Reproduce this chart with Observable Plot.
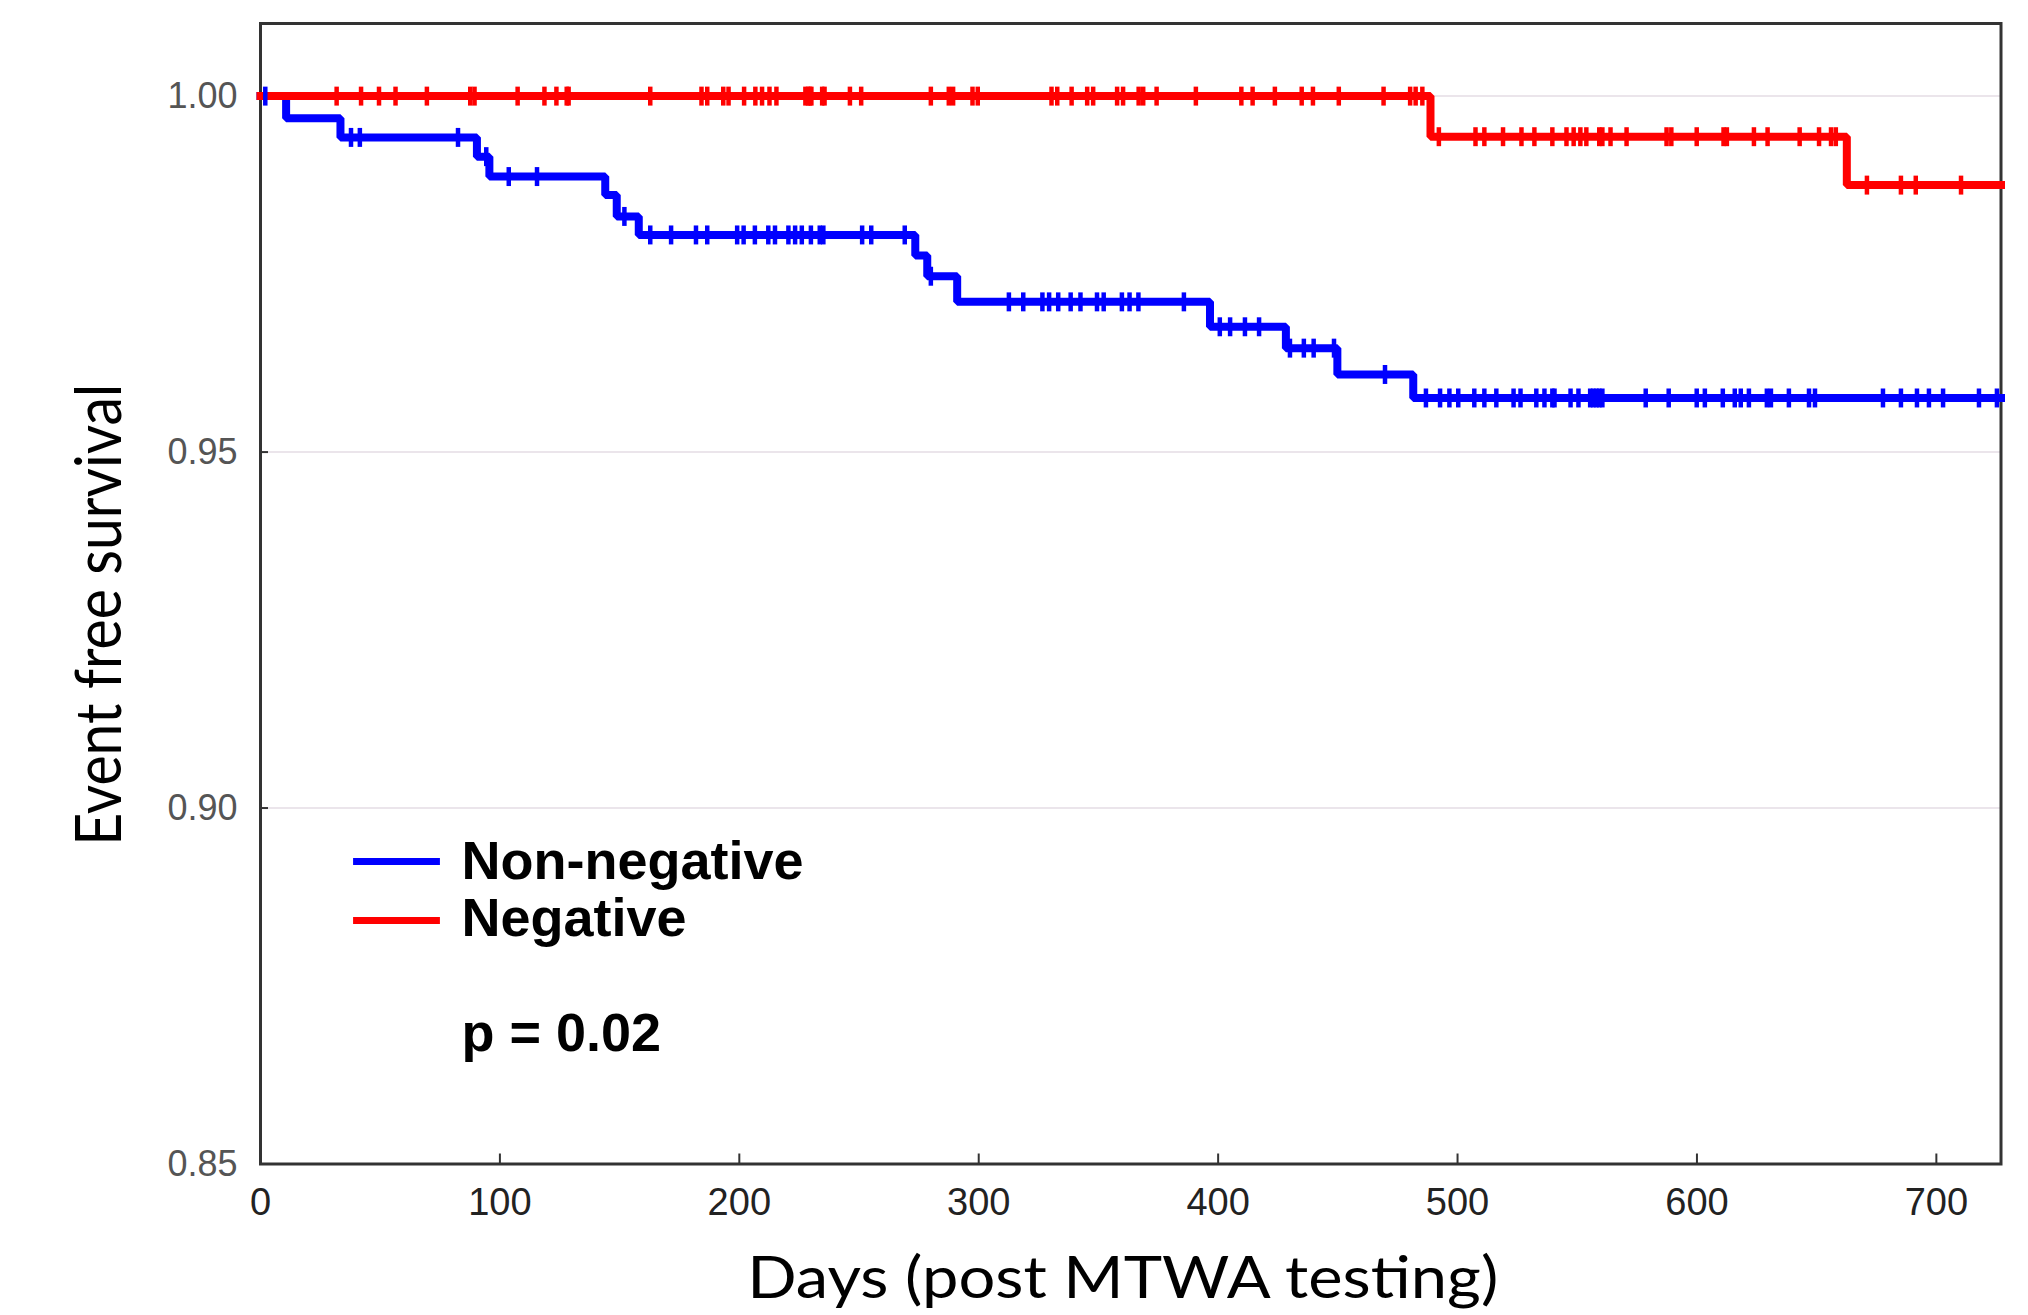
<!DOCTYPE html>
<html>
<head>
<meta charset="utf-8">
<script src="https://cdn.jsdelivr.net/npm/d3@7"></script>
<script src="https://cdn.jsdelivr.net/npm/@observablehq/plot@0.6"></script>
<style>
html, body { margin: 0; padding: 0; background: #fff; }
#chart { width: 2028px; height: 1315px; }
</style>
</head>
<body>
<div id="chart"></div>
<script>
// ---------------- data ----------------
const xTicks = [0, 100, 200, 300, 400, 500, 600, 700];
const yTicks = [0.85, 0.90, 0.95, 1.00];
const gridValues = [0.90, 0.95, 1.00];
const xEnd = 727;
const yTop = 1.0102;

const seriesNames = ["Non-negative", "Negative"];
const seriesColors = ["#0000ff", "#ff0000"];

// Non-negative (blue): Kaplan-Meier step times and survival after each step
const nonNegEventDays = [0, 10.7, 33.4, 90.4, 95.6, 144, 148.8, 158, 273.5, 278.5, 291, 396.6, 428.3, 449.8, 481.5];
const nonNegSurvival  = [1, 0.9969, 0.9942, 0.9915, 0.9887, 0.9861, 0.9831, 0.9805, 0.9776, 0.9747, 0.9711, 0.9676, 0.9646, 0.9609, 0.9576];
const nonNegCensored = [2, 37.8, 41.5, 82.5, 94.3, 103.7, 115.5, 152, 162.8, 171.5, 181.9, 186.6, 199.1, 201.8, 206.5,
  212.1, 214.9, 220.5, 223.3, 226.1, 229.9, 233.6, 235.1, 251.3, 255.1, 269.1, 280, 312.6, 318.6, 326.6, 329.4,
  333.2, 338.4, 342.5, 349.4, 352.2, 359.8, 363.0, 366.7, 385.7, 400.7, 405.0, 411.2, 417.1, 430, 435.8, 439.9,
  448.4, 469.7, 486.8, 492.7, 496.6, 500.3, 507, 511.2, 516.2, 523.4, 526.3, 532.9, 536.3, 539.6, 540.5, 547.2,
  550.5, 555.4, 556.7, 558, 559.2, 560.5, 578.6, 588.2, 599.9, 603.3, 610.8, 615.8, 618.3, 621.7, 629.2, 630.9,
  638.4, 646.8, 649.3, 677.7, 685.2, 691.9, 696.9, 702.8, 717.8, 725.3];

// Negative (red)
const negEventDays = [0, 488.7, 662.6];
const negSurvival  = [1, 0.9943, 0.9875];
const negCensored = [31.8, 42, 49.5, 56.4, 69.5, 87.6, 89.4, 107.4, 118.6, 123.6, 127.9, 128.7, 162.8, 184.2, 186.6,
  193.3, 195.5, 202, 206.7, 209.5, 212.6, 215.5, 227.6, 228.7, 229.5, 230.1, 234.6, 235.6, 246.2, 250.9, 280,
  287.5, 289.3, 297.4, 299.6, 330.4, 332.8, 338.8, 345.3, 347.8, 357.8, 360.3, 366.8, 368.7, 374.3, 390.7,
  409.7, 414.4, 423.7, 434.9, 439.6, 450.4, 469.1, 480.2, 482.5, 485.3, 492.2, 507.5, 511.2, 519, 526.7, 532.1,
  539.6, 545.5, 548.5, 551.3, 553.8, 559.2, 560.5, 563.9, 570.6, 587.3, 589.3, 599.9, 611.1, 612.5, 623.8,
  629.5, 642.9, 651, 656, 658, 671, 685.2, 691.4, 710.3];

const pText = "p = 0.02";
const xTitle = "Days (post MTWA testing)";
const yTitle = "Event free survival";

// ---------------- build tables ----------------
function stepRows(days, surv, name) {
  const rows = days.map((d, i) => ({day: d, surv: surv[i], series: name}));
  rows.push({day: xEnd, surv: surv[surv.length - 1], series: name});
  return rows;
}
function levelAt(days, surv, t) {
  let v = surv[0];
  for (let i = 0; i < days.length; i++) if (days[i] <= t) v = surv[i];
  return v;
}
const curveRows = [
  ...stepRows(nonNegEventDays, nonNegSurvival, seriesNames[0]),
  ...stepRows(negEventDays, negSurvival, seriesNames[1])
];
const censorRows = [
  ...nonNegCensored.map(t => ({day: t, surv: levelAt(nonNegEventDays, nonNegSurvival, t), series: seriesNames[0]})),
  ...negCensored.map(t => ({day: t, surv: levelAt(negEventDays, negSurvival, t), series: seriesNames[1]}))
];

// custom symbols
const vTick = { draw(ctx, size) { const h = Math.sqrt(size) / 2; ctx.moveTo(0, -h); ctx.lineTo(0, h); } };
const hSwatch = { draw(ctx, size) { const w = Math.sqrt(size) / 2; ctx.moveTo(-w, 0); ctx.lineTo(w, 0); } };

const W = 2028, H = 1315;
const mL = 260, mR = 27.5, mT = 23, mB = 151.5;
const frameW = W - mL - mR, frameH = H - mT - mB;

const legendFont = "'Liberation Sans', Arial, sans-serif";
const titleFont = "Lato, 'Open Sans', sans-serif";

const legendMarks = seriesNames.flatMap((name, i) => [
  Plot.dot([name], {frameAnchor: "top-left", dx: 136, dy: 838 + i * 59, symbol: hSwatch, r: 49,
    stroke: seriesColors[i], strokeWidth: 7, fill: "none"}),
  Plot.text([name], {frameAnchor: "top-left", lineAnchor: "bottom", textAnchor: "start", dx: 201, dy: 855 + i * 57,
    text: d => d, fontSize: 54, fontWeight: "bold", fill: "#000", fontFamily: legendFont})
]);

const chart = Plot.plot({
  width: W, height: H,
  marginLeft: mL, marginRight: mR, marginTop: mT, marginBottom: mB,
  style: {fontFamily: legendFont, background: "#fff", overflow: "visible"},
  x: {domain: [0, xEnd]},
  y: {domain: [0.85, yTop]},
  color: {domain: seriesNames, range: seriesColors},
  marks: [
    Plot.ruleY(gridValues, {y: d => d, stroke: "#e4dce4", strokeWidth: 1.5}),
    Plot.tickX(xTicks, {x: d => d, insetTop: frameH - 10, stroke: "#333", strokeWidth: 2}),
    Plot.tickY(yTicks, {y: d => d, insetRight: frameW - 8, stroke: "#333", strokeWidth: 2}),
    Plot.axisX({ticks: xTicks, tickSize: 0, tickPadding: 24, fontSize: 38, fill: "#222", label: null, tickFormat: d => String(d)}),
    Plot.axisY({ticks: yTicks, tickSize: 0, tickPadding: 23, fontSize: 36, fill: "#555", label: null, tickFormat: d3.format(".2f")}),
    Plot.frame({stroke: "#333", strokeWidth: 3}),
    Plot.line(curveRows, {x: "day", y: "surv", z: "series", stroke: "series", curve: "step-after",
      strokeWidth: 8, strokeLinejoin: "miter", strokeLinecap: "square"}),
    Plot.dot(censorRows, {x: "day", y: "surv", stroke: "series", symbol: vTick, r: 10.7, strokeWidth: 4.5}),
    ...legendMarks,
    Plot.text([pText], {frameAnchor: "top-left", lineAnchor: "bottom", textAnchor: "start", dx: 201, dy: 1027,
      text: d => d, fontSize: 54, fontWeight: "bold", fill: "#000", fontFamily: legendFont}),
    Plot.text([xTitle], {frameAnchor: "bottom", lineAnchor: "bottom", textAnchor: "middle", dx: -8, dy: 133.5,
      text: d => d, fontSize: 58, fill: "#000", fontFamily: titleFont}),
    Plot.text([yTitle], {frameAnchor: "left", lineAnchor: "middle", textAnchor: "middle", rotate: -90, dx: -160, dy: 21,
      text: d => d, fontSize: 63, fill: "#000", fontFamily: titleFont})
  ]
});

document.getElementById("chart").appendChild(chart);

// stretch axis titles to their measured lengths
d3.select(chart).selectAll("text").each(function () {
  if (this.textContent === xTitle) { this.setAttribute("textLength", 751); this.setAttribute("lengthAdjust", "spacingAndGlyphs"); }
  if (this.textContent === yTitle) { this.setAttribute("textLength", 462); this.setAttribute("lengthAdjust", "spacingAndGlyphs"); }
});
</script>
</body>
</html>
